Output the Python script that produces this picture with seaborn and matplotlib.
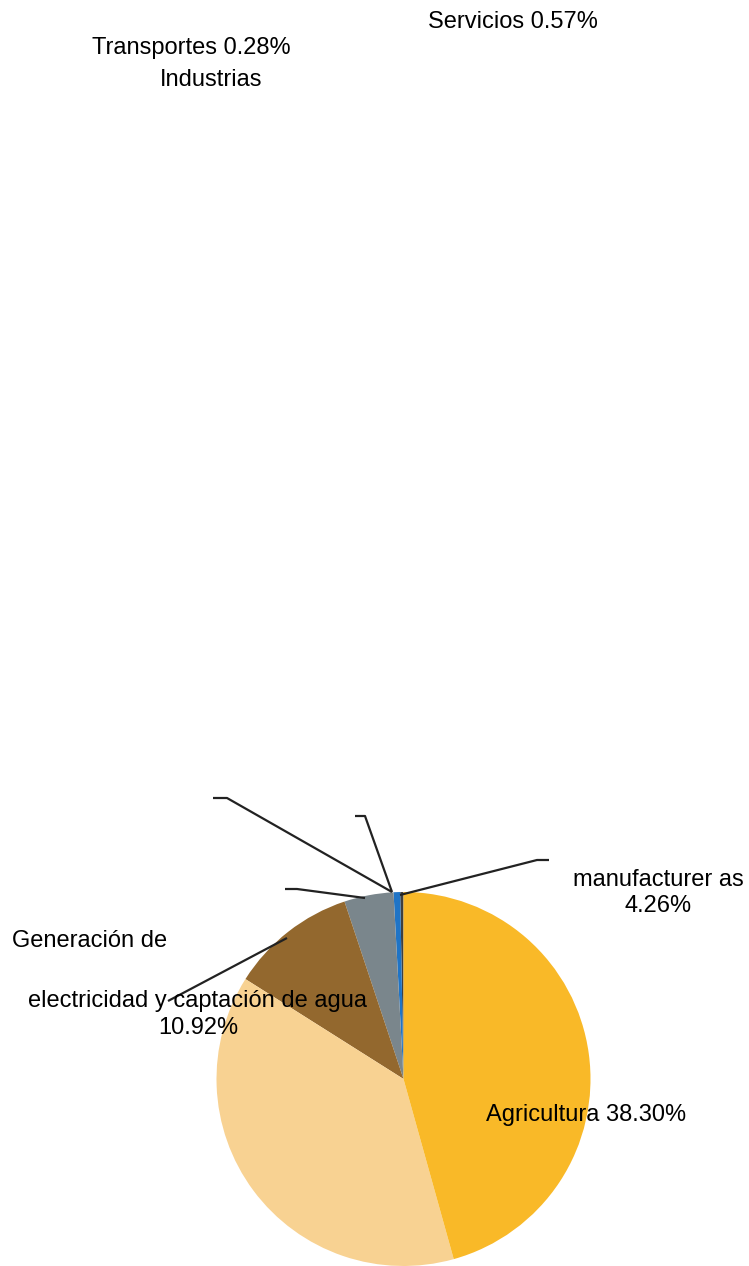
import matplotlib
matplotlib.use("Agg")
import matplotlib.pyplot as plt
import seaborn as sns

# datos (en sentido antihorario desde las 12)
sectores = ["Transportes", "Servicios", "Industrias manufactureras",
            "Generación de electricidad y captación de agua", "Agricultura", "Otros"]
porcentajes = [0.28, 0.57, 4.26, 10.92, 38.30, 45.67]
colores = ["#3f3f3f", "#1f74c6", "#7a868c", "#93682e", "#f8d292", "#f9b928"]

sns.set_style("white")
plt.rcParams["font.family"] = ["Liberation Sans", "DejaVu Sans"]

W, H = 749, 1266
fig = plt.figure(figsize=(W / 100, H / 100), dpi=100)
ax = fig.add_axes([0, 0, 1, 1])
ax.set_xlim(0, W)
ax.set_ylim(0, H)
ax.set_aspect("equal")
ax.axis("off")

# pixel y (desde arriba) -> coordenada del eje
def py(y):
    return H - y

ax.pie(porcentajes, colors=colores, startangle=90, counterclock=True,
       center=(403.5, py(1079)), radius=187,
       wedgeprops=dict(linewidth=0), frame=True)
ax.set_xlim(0, W)
ax.set_ylim(0, H)
ax.axis("off")

# líneas guía
guias = [
    [(392, 892), (227, 798), (213, 798)],
    [(392, 892), (365, 816), (355, 816)],
    [(365, 898), (297, 889), (285, 889)],
    [(400, 895), (537, 860), (549, 860)],
    [(287, 938), (168, 1001)],
]
for g in guias:
    ax.plot([p[0] for p in g], [py(p[1]) for p in g], color="#222222", lw=1.6,
            solid_capstyle="butt", zorder=3)

fs = 17
textos = [
    ("Servicios 0.57%", 513, 22),
    ("Transportes 0.28%", 191, 48),
    ("Industrias", 211, 80),
    ("manufacturer as", 658, 880),
    ("4.26%", 658, 906),
    ("Generación de", 90, 941),
    ("electricidad y captación de agua", 198, 1001),
    ("10.92%", 198, 1028),
    ("Agricultura 38.30%", 586, 1115),
]
for t, x, y in textos:
    ax.text(x, py(y), t, fontsize=fs, ha="center", va="center", color="black", zorder=4)

fig.savefig("out.png", dpi=100)
